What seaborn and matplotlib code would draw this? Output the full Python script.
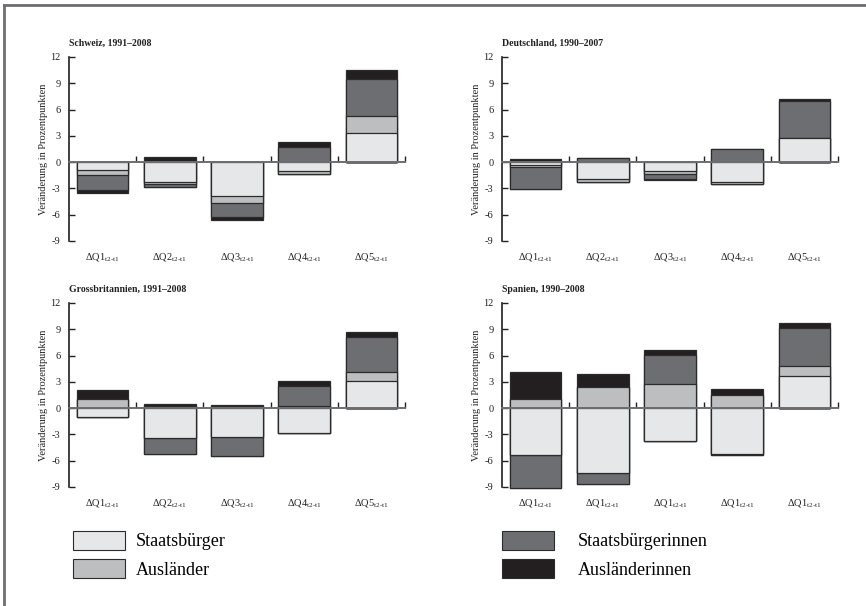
"""Stacked change bars by income quintile for four countries (2x2 panels)."""

import matplotlib.pyplot as plt
import pandas as pd
import seaborn as sns
from matplotlib.lines import Line2D
from matplotlib.patches import Patch

plt.rcParams["font.family"] = ["Liberation Serif", "DejaVu Serif"]
plt.rcParams["mathtext.fontset"] = "custom"
plt.rcParams["mathtext.rm"] = "Liberation Serif"
plt.rcParams["mathtext.it"] = "Liberation Serif:italic"
plt.rcParams["axes.unicode_minus"] = False

quintiles = ["Q1", "Q2", "Q3", "Q4", "Q5"]
series = ["Staatsbürger", "Ausländer", "Staatsbürgerinnen", "Ausländerinnen"]
colors = ["#e6e7e8", "#bcbec0", "#6d6e71", "#231f20"]

titles = [
    "Schweiz, 1991–2008",
    "Deutschland, 1990–2007",
    "Grossbritannien, 1991–2008",
    "Spanien, 1990–2008",
]
ticks_std = [r"ΔQ%d$_{\text{t2-t1}}$" % (i + 1) for i in range(5)]
ticks_es = [r"ΔQ1$_{\text{t2-t1}}$"] * 5  # as printed in the original

# Schweiz
ch_sb = [-0.9, -2.3, -3.9, -1.0, 3.35]
ch_al = [-0.55, -0.15, -0.75, -0.35, 1.9]
ch_sbi = [-1.75, -0.4, -1.6, 1.75, 4.25]
ch_ali = [-0.3, 0.6, -0.3, 0.5, 1.0]
# Deutschland
de_sb = [-0.35, -1.95, -1.0, -2.3, 2.75]
de_al = [-0.2, -0.3, -0.4, -0.15, 0.0]
de_sbi = [-2.5, 0.45, -0.5, 1.5, 4.2]
de_ali = [0.35, 0.0, -0.15, 0.0, 0.2]
# Grossbritannien
gb_sb = [-1.05, -3.4, -3.3, -2.85, 3.15]
gb_al = [1.0, 0.3, 0.2, 0.25, 1.0]
gb_sbi = [0.0, -1.85, -2.15, 2.3, 3.95]
gb_ali = [1.1, 0.15, 0.15, 0.5, 0.6]
# Spanien
es_sb = [-5.35, -7.35, -3.8, -5.2, 3.7]
es_al = [1.0, 2.4, 2.7, 1.45, 1.1]
es_sbi = [-3.8, -1.3, 3.35, -0.2, 4.4]
es_ali = [3.1, 1.45, 0.6, 0.75, 0.55]

panels = [
    (titles[0], [ch_sb, ch_al, ch_sbi, ch_ali], ticks_std),
    (titles[1], [de_sb, de_al, de_sbi, de_ali], ticks_std),
    (titles[2], [gb_sb, gb_al, gb_sbi, gb_ali], ticks_std),
    (titles[3], [es_sb, es_al, es_sbi, es_ali], ticks_es),
]

W, H = 866, 606
fig = plt.figure(figsize=(W / 100, H / 100), dpi=100)

# axes boxes in pixels: left, top
boxes = [(69, 57), (502, 57), (69, 303), (502, 303)]
aw, ah = 336, 184

edge = "#2b2b2b"

for (title, values, ticklabels), (left, top) in zip(panels, boxes):
    ax = fig.add_axes([left / W, 1 - (top + ah) / H, aw / W, ah / H])
    df = pd.DataFrame(dict(zip(series, values)), index=quintiles)
    pos = df.clip(lower=0).cumsum(axis=1)
    neg = df.clip(upper=0).cumsum(axis=1)
    # draw cumulative bars from the outermost layer inwards -> stacked look
    for s, c in reversed(list(zip(series, colors))):
        for cum in (pos, neg):
            sns.barplot(
                x=quintiles,
                y=cum[s].values,
                order=quintiles,
                color=c,
                saturation=1,
                width=0.77,
                edgecolor=edge,
                linewidth=0.9,
                errorbar=None,
                clip_on=False,
                ax=ax,
            )

    ax.set_xlim(-0.5, 4.5)
    ax.set_ylim(-9, 12)
    ax.set_yticks(range(-9, 13, 3))
    ax.spines[["top", "right"]].set_visible(False)
    ax.spines["bottom"].set_position(("data", 0))
    ax.spines["bottom"].set_color("#6d6e71")
    ax.spines["bottom"].set_linewidth(1.4)
    ax.spines["left"].set_color("#231f20")
    ax.spines["left"].set_linewidth(1.2)

    # small upward ticks between the bars
    ax.set_xticks([i + 0.5 for i in range(5)], labels=[""] * 5)
    ax.tick_params(axis="x", direction="in", length=4, width=1, color="#231f20")
    ax.tick_params(axis="y", direction="in", length=4, width=1, color="#231f20",
                   labelsize=7.5, pad=6, labelcolor="#231f20")

    sec = ax.secondary_xaxis("bottom")
    sec.set_xticks(range(5), labels=ticklabels)
    sec.tick_params(length=0, labelsize=7.5, pad=7, labelcolor="#231f20")
    sec.spines["bottom"].set_visible(False)

    ax.set_xlabel("")
    ax.set_ylabel("Veränderung in Prozentpunkten", fontsize=7.5,
                  labelpad=2, color="#231f20")
    ax.set_title(title, loc="left", fontsize=7, fontweight="bold", pad=8,
                 color="#231f20")

# frame lines (top and left)
fig.add_artist(Line2D([4 / W, 1], [1 - 5 / H, 1 - 5 / H], color="#6d6e71", lw=2))
fig.add_artist(Line2D([4 / W, 4 / W], [0, 1 - 5 / H], color="#6d6e71", lw=2))

handles = [Patch(facecolor=c, edgecolor=edge, linewidth=0.8) for c in colors]
common = dict(loc="upper left", frameon=False, fontsize=13, handlelength=2.9,
              handleheight=1.2, labelspacing=0.5, borderpad=0, borderaxespad=0)
fig.legend(handles[:2], series[:2], bbox_to_anchor=(73 / W, 1 - 531 / H),
           handletextpad=0.6, **common)
fig.legend(handles[2:], series[2:], bbox_to_anchor=(502 / W, 1 - 531 / H),
           handletextpad=1.3, **common)

fig.savefig("out.png", dpi=100)
print("Saved out.png")
